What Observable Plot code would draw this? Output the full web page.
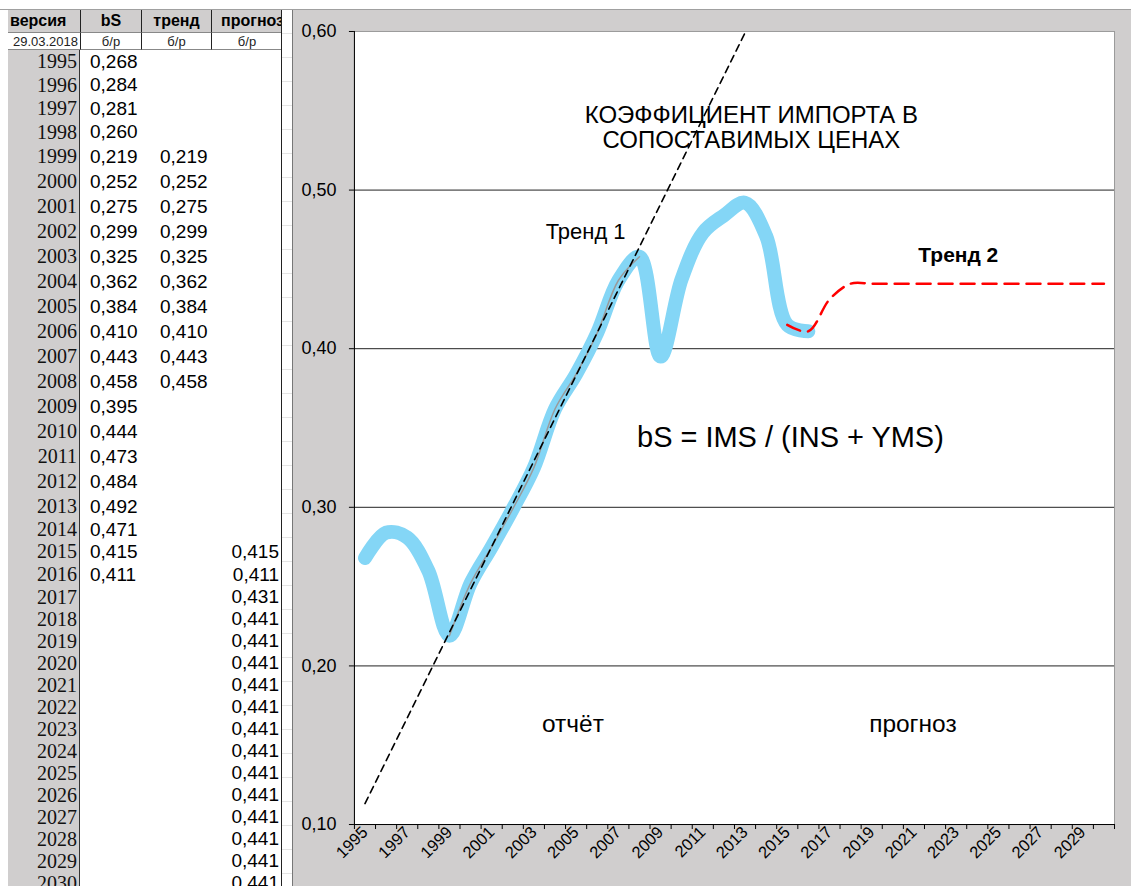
<!DOCTYPE html>
<html>
<head>
<meta charset="utf-8">
<script src="https://cdn.jsdelivr.net/npm/d3@7"></script>
<script src="https://cdn.jsdelivr.net/npm/@observablehq/plot@0.6"></script>
<style>
  html, body { margin: 0; padding: 0; background: #fff; }
  #page { position: relative; width: 1131px; height: 886px; overflow: hidden; background: #fff; font-family: "Liberation Sans", Arial, sans-serif; }
  #topline { position: absolute; left: 0; top: 9px; width: 1131px; height: 1px; background: #a0a0a0; }
  #table { position: absolute; left: 8px; top: 10px; width: 274px; }
  .row { position: relative; width: 274px; box-sizing: border-box; }
  .cell { position: absolute; top: 0; height: 100%; box-sizing: border-box; display: flex; align-items: center; white-space: nowrap; }
  .c0 { left: 0; width: 72px; justify-content: flex-end; padding-right: 2px; }
  .c1 { left: 72px; width: 61px; padding-left: 10px; }
  .c2 { left: 133px; width: 70px; padding-left: 19px; }
  .c3 { left: 203px; width: 71px; justify-content: flex-end; padding-right: 3px; }
  .hdr .cell { background: #d0cece; font-weight: bold; font-size: 16px; color: #000; }
  .hdr .c0 { justify-content: flex-start; padding-left: 2px; padding-right: 0; }
  .hdr .c1, .hdr .c2, .hdr .c3 { justify-content: center; padding: 0; border-left: 1px solid #222; }
  .hdr .c3 { justify-content: flex-start; padding-left: 9px; overflow: visible; }
  .sub .cell { font-size: 13px; color: #222; border-top: 1px solid #888; border-bottom: 1px solid #888; }
  .sub .c0 { background: #fff; }
  .sub .c1, .sub .c2, .sub .c3 { justify-content: center; padding: 0; border-left: 1px solid #222; }
  .body .c0 { background: #d0cece; font-family: "Liberation Serif", "Times New Roman", serif; font-size: 20px; color: #111; border-right: 1px solid #333; }
  .body .c1, .body .c2, .body .c3 { font-size: 19px; color: #000; }
  #tright { position: absolute; left: 281px; top: 10px; width: 1px; height: 876px; background: #222; }
  #strip { position: absolute; left: 282px; top: 10px; width: 10px; height: 876px; background: repeating-linear-gradient(#fff 0px, #fff 23px, #e4e4e4 23px, #e4e4e4 24px); }
  #chart { position: absolute; left: 292px; top: 10px; width: 839px; height: 876px; background: #d0cece; border-left: 1px solid #777; box-sizing: border-box; }
  #chart svg { position: absolute; left: -1px; top: 0; }
</style>
</head>
<body>
<div id="page">
  <div id="topline"></div>
  <div id="table"></div>
  <div id="tright"></div>
  <div id="strip"></div>
  <div id="chart"></div>
</div>
<script>
// ---- data ----
const years = d3.range(1995, 2031);
const bSYears = d3.range(1995, 2017);
const bSValues = [0.268, 0.284, 0.281, 0.260, 0.219, 0.252, 0.275, 0.299, 0.325, 0.362, 0.384,
                  0.410, 0.443, 0.458, 0.395, 0.444, 0.473, 0.484, 0.492, 0.471, 0.415, 0.411];
const trendYears = d3.range(1999, 2009);
const trendValues = [0.219, 0.252, 0.275, 0.299, 0.325, 0.362, 0.384, 0.410, 0.443, 0.458];
const forecastYears = d3.range(2015, 2031);
const forecastValues = [0.415, 0.411, 0.431, 0.441, 0.441, 0.441, 0.441, 0.441, 0.441, 0.441,
                        0.441, 0.441, 0.441, 0.441, 0.441, 0.441];
const yTicks = [0.10, 0.20, 0.30, 0.40, 0.50, 0.60];
const gridValues = [0.20, 0.30, 0.40, 0.50];
const xLabelYears = d3.range(1995, 2030, 2);
const headers = ["версия", "bS", "тренд", "прогноз"];
const subHeaders = ["29.03.2018", "б/р", "б/р", "б/р"];
const notes = [
  {key: "title", text: "КОЭФФИЦИЕНТ ИМПОРТА В\nСОПОСТАВИМЫХ ЦЕНАХ", x: 2013.3, y: 0.5395},
  {key: "t1", text: "Тренд 1", x: 2005.45, y: 0.4735},
  {key: "t2", text: "Тренд 2", x: 2023.1, y: 0.459},
  {key: "formula", text: "bS = IMS / (INS + YMS)", x: 2015.15, y: 0.3437},
  {key: "report", text: "отчёт", x: 2004.85, y: 0.163},
  {key: "forecast", text: "прогноз", x: 2020.95, y: 0.163}
];

// ---- table ----
const fmt3 = v => d3.format(".3f")(v).replace(".", ",");
const bSMap = new Map(bSYears.map((y, i) => [y, bSValues[i]]));
const trMap = new Map(trendYears.map((y, i) => [y, trendValues[i]]));
const fcMap = new Map(forecastYears.map((y, i) => [y, forecastValues[i]]));
function rowH(y) {
  if (y <= 1998) return 23.5;
  if (y <= 2013) return 25;
  if (y === 2014) return 21;
  if (y <= 2016) return 23;
  return 22;
}
const table = document.getElementById("table");
function addRow(cls, h, cells) {
  const r = document.createElement("div");
  r.className = "row " + cls;
  r.style.height = h + "px";
  cells.forEach((t, i) => {
    const c = document.createElement("div");
    c.className = "cell c" + i;
    c.textContent = t;
    r.appendChild(c);
  });
  table.appendChild(r);
}
addRow("hdr", 22, headers);
addRow("sub", 18, subHeaders);
years.forEach(y => addRow("body", rowH(y), [
  String(y),
  bSMap.has(y) ? fmt3(bSMap.get(y)) : "",
  trMap.has(y) ? fmt3(trMap.get(y)) : "",
  fcMap.has(y) ? fmt3(fcMap.get(y)) : ""
]));

// ---- chart ----
const bSData = bSYears.map((x, i) => ({x, y: bSValues[i]}));
const trendData = trendYears.map((x, i) => ({x, y: trendValues[i]}));
const fcData = forecastYears.map((x, i) => ({x, y: forecastValues[i]}));

// linear least squares trend line through the "тренд" series (Excel trendline)
const mx = d3.mean(trendYears), my = d3.mean(trendValues);
const slope = d3.sum(trendYears, (x, i) => (x - mx) * (trendValues[i] - my)) / d3.sum(trendYears, x => (x - mx) ** 2);
const intercept = my - slope * mx;
const regData = [years[0], years[years.length - 1]].map(x => ({x, y: intercept + slope * x}));

const half = 0.5;
const xDomain = [years[0] - half, years[years.length - 1] + half];
const boundaries = d3.range(years[0] - half, years[years.length - 1] + 1, 1);
const commaFmt = d => d3.format(".2f")(d).replace(".", ",");
const noteStyle = {
  title: {fontSize: 24, fontWeight: "normal", lineHeight: 1.04},
  t1: {fontSize: 22, fontWeight: "normal"},
  t2: {fontSize: 21, fontWeight: "bold"},
  formula: {fontSize: 29, fontWeight: "normal"},
  report: {fontSize: 24.5, fontWeight: "normal"},
  forecast: {fontSize: 24.5, fontWeight: "normal"}
};

const chart = Plot.plot({
  width: 839,
  height: 876,
  marginLeft: 62,
  marginRight: 16,
  marginTop: 21,
  marginBottom: 61,
  style: {background: "transparent", fontFamily: "'Liberation Sans', Arial, sans-serif", color: "#000", overflow: "visible"},
  x: {domain: xDomain},
  y: {domain: [0.10, 0.60]},
  marks: [
    Plot.frame({fill: "#fff", stroke: "#9a9a9a"}),
    Plot.ruleY(gridValues, {stroke: "#222", strokeWidth: 1}),
    Plot.axisY({ticks: yTicks, tickFormat: commaFmt, tickSize: 5, tickPadding: 13, fontSize: 18, stroke: "#000", label: null}),
    Plot.axisX({ticks: boundaries, tickFormat: () => "", tickSize: 5, stroke: "#000", label: null}),
    Plot.axisX({ticks: xLabelYears, tickFormat: d => String(d), tickSize: 0, tickRotate: -45, tickPadding: 5, fontSize: 16.5, label: null}),
    Plot.ruleX([xDomain[0]], {stroke: "#000"}),
    Plot.ruleY([0.10], {stroke: "#000"}),
    Plot.line(bSData, {x: "x", y: "y", curve: "catmull-rom", stroke: "#84d6f6", strokeWidth: 14, strokeLinecap: "round", strokeLinejoin: "round"}),
    Plot.line(trendData, {x: "x", y: "y", curve: "catmull-rom", stroke: "#9a9a9a", strokeWidth: 1.5}),
    Plot.line(regData, {x: "x", y: "y", stroke: "#000", strokeWidth: 1.6, strokeDasharray: "7,5", clip: true}),
    Plot.line(fcData, {x: "x", y: "y", curve: "catmull-rom", stroke: "#ff0000", strokeWidth: 2.5, strokeDasharray: "14,8"}),
    ...notes.map(n => Plot.text([n], {x: "x", y: "y", text: "text", textAnchor: "middle", lineAnchor: "middle", fill: "#000", ...noteStyle[n.key]}))
  ]
});
document.getElementById("chart").appendChild(chart);
</script>
</body>
</html>
